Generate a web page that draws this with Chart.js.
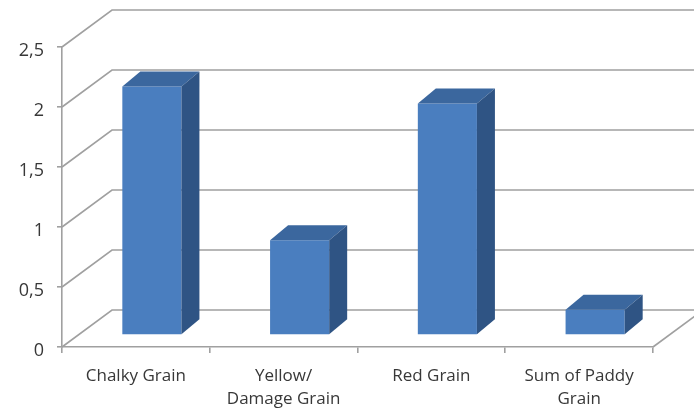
<!DOCTYPE html>
<html>
<head>
    <title>Grain Quality</title>
    <script src="https://cdn.jsdelivr.net/npm/chart.js"></script>
    <style>
        html, body { margin: 0; padding: 0; background: #fff; }
        .chart-box { width: 694px; height: 412px; }
    </style>
</head>
<body>
    <div class="chart-box">
        <canvas id="grainChart"></canvas>
    </div>

    <script>
        const categories = ['Chalky Grain', ['Yellow/', 'Damage Grain'], 'Red Grain', ['Sum of Paddy', 'Grain']];
        const values = [2.07, 0.79, 1.93, 0.21];
        const yTicks = [0, 0.5, 1, 1.5, 2, 2.5];

        // fake 3d: floor depth, where the bars stand, and how deep a bar is
        const wallOff = { x: 50, y: -37 };
        const barOff = { x: 16, y: -12 };
        const barDepth = { x: 18, y: -15 };
        const lineColor = '#a0a0a0';
        const textColor = '#383838';

        const fake3d = {
            id: 'fake3d',
            beforeDatasetsDraw(chart) {
                const ctx = chart.ctx;
                const y = chart.scales.y;
                const area = chart.chartArea;
                ctx.save();
                ctx.strokeStyle = lineColor;
                ctx.lineWidth = 1.6;
                yTicks.forEach(v => {
                    const py = y.getPixelForValue(v);
                    ctx.beginPath();
                    ctx.moveTo(area.left, py);
                    ctx.lineTo(area.left + wallOff.x, py + wallOff.y);
                    ctx.lineTo(area.right + wallOff.x, py + wallOff.y);
                    ctx.stroke();
                });
                // right edge of the floor
                const p0 = y.getPixelForValue(0);
                ctx.beginPath();
                ctx.moveTo(area.right, p0);
                ctx.lineTo(area.right + wallOff.x, p0 + wallOff.y);
                ctx.stroke();
                ctx.restore();

                ctx.save();
                ctx.translate(barOff.x, barOff.y);
            },
            afterDatasetsDraw(chart) {
                const ctx = chart.ctx;
                chart.getDatasetMeta(0).data.forEach(bar => {
                    const p = bar.getProps(['x', 'y', 'base', 'width'], true);
                    const l = p.x - p.width / 2;
                    const r = p.x + p.width / 2;
                    // top
                    ctx.fillStyle = '#3b679e';
                    ctx.beginPath();
                    ctx.moveTo(l, p.y);
                    ctx.lineTo(l + barDepth.x, p.y + barDepth.y);
                    ctx.lineTo(r + barDepth.x, p.y + barDepth.y);
                    ctx.lineTo(r, p.y);
                    ctx.closePath();
                    ctx.fill();
                    // side
                    ctx.fillStyle = '#2f5484';
                    ctx.beginPath();
                    ctx.moveTo(r, p.y);
                    ctx.lineTo(r + barDepth.x, p.y + barDepth.y);
                    ctx.lineTo(r + barDepth.x, p.base + barDepth.y);
                    ctx.lineTo(r, p.base);
                    ctx.closePath();
                    ctx.fill();
                });
                ctx.restore();
            }
        };

        const ctx = document.getElementById('grainChart').getContext('2d');
        new Chart(ctx, {
            type: 'bar',
            data: {
                labels: categories,
                datasets: [{
                    data: values,
                    backgroundColor: '#4a7ebf',
                    borderWidth: 0,
                    categoryPercentage: 1,
                    barPercentage: 0.4
                }]
            },
            options: {
                responsive: true,
                maintainAspectRatio: false,
                animation: false,
                layout: { padding: { top: 47, right: 41, left: 0, bottom: 0 } },
                plugins: {
                    legend: { display: false },
                    tooltip: { enabled: false }
                },
                scales: {
                    x: {
                        afterFit: s => { s.height = 65; },
                        grid: { drawOnChartArea: false, tickLength: 6, color: lineColor, lineWidth: 1.6 },
                        border: { color: lineColor, width: 1.6 },
                        ticks: {
                            color: textColor,
                            padding: 12,
                            font: { family: 'Open Sans', size: 17, lineHeight: 1.35 },
                            maxRotation: 0
                        }
                    },
                    y: {
                        min: 0,
                        max: 2.5,
                        afterFit: s => { s.width = 62; },
                        afterBuildTicks: s => { s.ticks = yTicks.map(v => ({ value: v })); },
                        grid: { drawOnChartArea: false, tickLength: 5, color: lineColor, lineWidth: 1.6 },
                        border: { color: lineColor, width: 1.6 },
                        ticks: {
                            color: textColor,
                            padding: 13,
                            labelOffset: 4,
                            font: { family: 'Open Sans', size: 18 },
                            callback: v => String(v).replace('.', ',')
                        }
                    }
                }
            },
            plugins: [fake3d]
        });
    </script>
</body>
</html>
